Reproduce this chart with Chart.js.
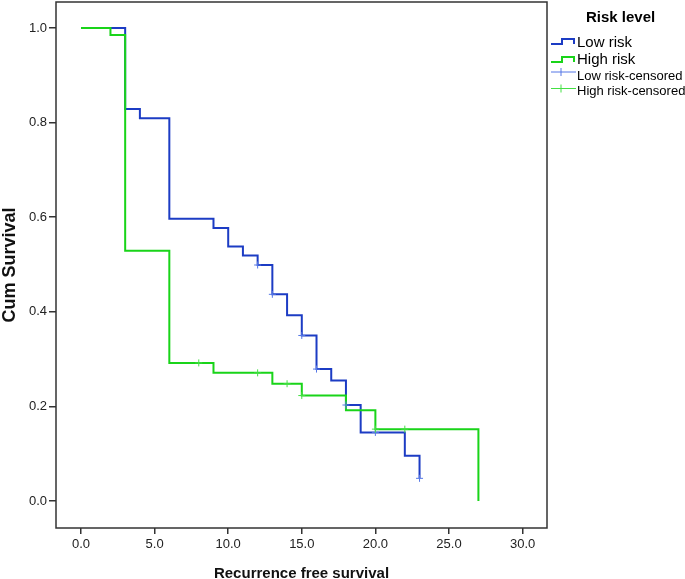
<!DOCTYPE html>
<html>
<head>
<meta charset="utf-8">
<title>Recurrence free survival by risk level</title>
<script src="https://cdn.jsdelivr.net/npm/chart.js@4.4.0/dist/chart.umd.min.js"></script>
<style>
  html, body { margin: 0; padding: 0; background: #fff; }
  #wrap { position: relative; width: 685px; height: 579px; }
</style>
</head>
<body>
<div id="wrap"><canvas id="km-chart"></canvas></div>
<script>
// ====== DATA ======
// step points: survival after the drop at each time
const lowTimes = [0, 3, 4, 6, 9, 10, 11, 12, 13, 14, 15, 16, 17, 18, 19, 22, 23];
const lowSurv  = [1.0, 0.829, 0.809, 0.597, 0.577, 0.538, 0.519, 0.499, 0.437, 0.393, 0.350, 0.279, 0.255, 0.203, 0.145, 0.096, 0.048];

const highTimes = [0, 2, 3, 6, 9, 13, 15, 18, 20, 27];
const highSurv  = [1.0, 0.985, 0.529, 0.292, 0.271, 0.248, 0.223, 0.192, 0.152, 0.0];

// censored observations
const lowCensTimes = [12, 13, 15, 16, 18, 20, 23];
const lowCensSurv  = [0.499, 0.437, 0.350, 0.279, 0.203, 0.145, 0.048];

const highCensTimes = [8, 12, 14, 15, 20, 22];
const highCensSurv  = [0.292, 0.271, 0.248, 0.223, 0.152, 0.152];

const xTickValues = [0, 5, 10, 15, 20, 25, 30];
const yTickValues = [0, 0.2, 0.4, 0.6, 0.8, 1.0];

const legendTitle = 'Risk level';
const seriesNames = ['Low risk', 'High risk', 'Low risk-censored', 'High risk-censored'];

const BLUE = '#1c3cc4';
const GREEN = '#19d419';
const BLUE_LIGHT = '#5577e6';
const GREEN_LIGHT = '#44e044';
const FONT = '"Liberation Sans", Arial, sans-serif';

function toPoints(xs, ys) {
    return xs.map((x, i) => ({ x: x, y: ys[i] }));
}

// plot frame (box round the chart area)
const framePlugin = {
    id: 'frame',
    afterDraw(chart) {
        const a = chart.chartArea;
        const ctx = chart.ctx;
        ctx.save();
        ctx.strokeStyle = '#333';
        ctx.lineWidth = 1.5;
        ctx.strokeRect(a.left, a.top, a.right - a.left, a.bottom - a.top);
        ctx.restore();
    }
};

// SPSS-style legend on the right
const legendPlugin = {
    id: 'riskLegend',
    afterDraw(chart) {
        const ctx = chart.ctx;
        ctx.save();
        ctx.fillStyle = '#000';
        ctx.textBaseline = 'middle';
        ctx.textAlign = 'left';
        ctx.font = 'bold 15px ' + FONT;
        ctx.fillText(legendTitle, 586, 18);

        // step icons
        const steps = [[BLUE, 44, 39], [GREEN, 62, 57]];
        ctx.lineWidth = 2;
        steps.forEach(s => {
            ctx.strokeStyle = s[0];
            ctx.beginPath();
            ctx.moveTo(551, s[1]);
            ctx.lineTo(562, s[1]);
            ctx.lineTo(562, s[2]);
            ctx.lineTo(574, s[2]);
            ctx.lineTo(574, s[1]);
            ctx.stroke();
        });
        ctx.font = '15px ' + FONT;
        ctx.fillText(seriesNames[0], 577, 42.5);
        ctx.fillText(seriesNames[1], 577, 59.5);

        // censored marks
        const cens = [[BLUE_LIGHT, 72, 76.5], [GREEN_LIGHT, 88.5, 91]];
        ctx.lineWidth = 1;
        cens.forEach(c => {
            ctx.strokeStyle = c[0];
            ctx.beginPath();
            ctx.moveTo(551, c[1]);
            ctx.lineTo(576, c[1]);
            ctx.moveTo(561, c[1] - 4);
            ctx.lineTo(561, c[1] + 4);
            ctx.stroke();
        });
        ctx.font = '13px ' + FONT;
        ctx.fillText(seriesNames[2], 577, cens[0][2]);
        ctx.fillText(seriesNames[3], 577, cens[1][2]);
        ctx.restore();
    }
};

const ctx = document.getElementById('km-chart').getContext('2d');
new Chart(ctx, {
    type: 'scatter',
    data: {
        datasets: [
            {
                label: seriesNames[0],
                data: toPoints(lowTimes, lowSurv),
                showLine: true,
                stepped: true,
                borderColor: BLUE,
                borderWidth: 2,
                pointRadius: 0,
                fill: false,
                order: 3
            },
            {
                label: seriesNames[1],
                data: toPoints(highTimes, highSurv),
                showLine: true,
                stepped: true,
                borderColor: GREEN,
                borderWidth: 2,
                pointRadius: 0,
                fill: false,
                order: 2
            },
            {
                label: seriesNames[2],
                data: toPoints(lowCensTimes, lowCensSurv),
                showLine: false,
                pointStyle: 'cross',
                pointRadius: 3.5,
                pointBorderWidth: 1,
                borderColor: BLUE_LIGHT,
                order: 1
            },
            {
                label: seriesNames[3],
                data: toPoints(highCensTimes, highCensSurv),
                showLine: false,
                pointStyle: 'cross',
                pointRadius: 3.5,
                pointBorderWidth: 1,
                borderColor: GREEN_LIGHT,
                order: 0
            }
        ]
    },
    options: {
        responsive: true,
        maintainAspectRatio: false,
        animation: false,
        layout: { autoPadding: false, padding: { left: 0, top: 2, right: 138, bottom: 0 } },
        plugins: {
            legend: { display: false },
            tooltip: { enabled: false }
        },
        scales: {
            x: {
                type: 'linear',
                min: -1.7,
                max: 31.66,
                afterBuildTicks: scale => { scale.ticks = xTickValues.map(v => ({ value: v })); },
                afterFit: scale => {
                    scale.height = 51;
                    scale.paddingLeft = 0;
                    scale.paddingRight = 0;
                },
                border: { display: false },
                grid: {
                    drawOnChartArea: false,
                    drawTicks: true,
                    tickLength: 6,
                    color: '#333',
                    lineWidth: 1.5
                },
                ticks: {
                    color: '#222',
                    font: { family: FONT, size: 13 },
                    padding: 3,
                    maxRotation: 0,
                    callback: v => v.toFixed(1)
                },
                title: {
                    display: true,
                    text: 'Recurrence free survival',
                    color: '#111',
                    font: { family: FONT, size: 15, weight: 'bold' },
                    padding: { top: 0, bottom: -4 }
                }
            },
            y: {
                type: 'linear',
                min: -0.057,
                max: 1.055,
                afterBuildTicks: scale => { scale.ticks = yTickValues.map(v => ({ value: v })); },
                afterFit: scale => {
                    scale.width = 56;
                    scale.paddingTop = 0;
                    scale.paddingBottom = 0;
                },
                border: { display: false },
                grid: {
                    drawOnChartArea: false,
                    drawTicks: true,
                    tickLength: 7,
                    color: '#333',
                    lineWidth: 1.5
                },
                ticks: {
                    color: '#222',
                    font: { family: FONT, size: 13 },
                    padding: 2,
                    callback: v => v.toFixed(1)
                },
                title: {
                    display: true,
                    text: 'Cum Survival',
                    color: '#111',
                    font: { family: FONT, size: 18, weight: 'bold' },
                    padding: { top: -1, bottom: 0 }
                }
            }
        }
    },
    plugins: [framePlugin, legendPlugin]
});
</script>
</body>
</html>
